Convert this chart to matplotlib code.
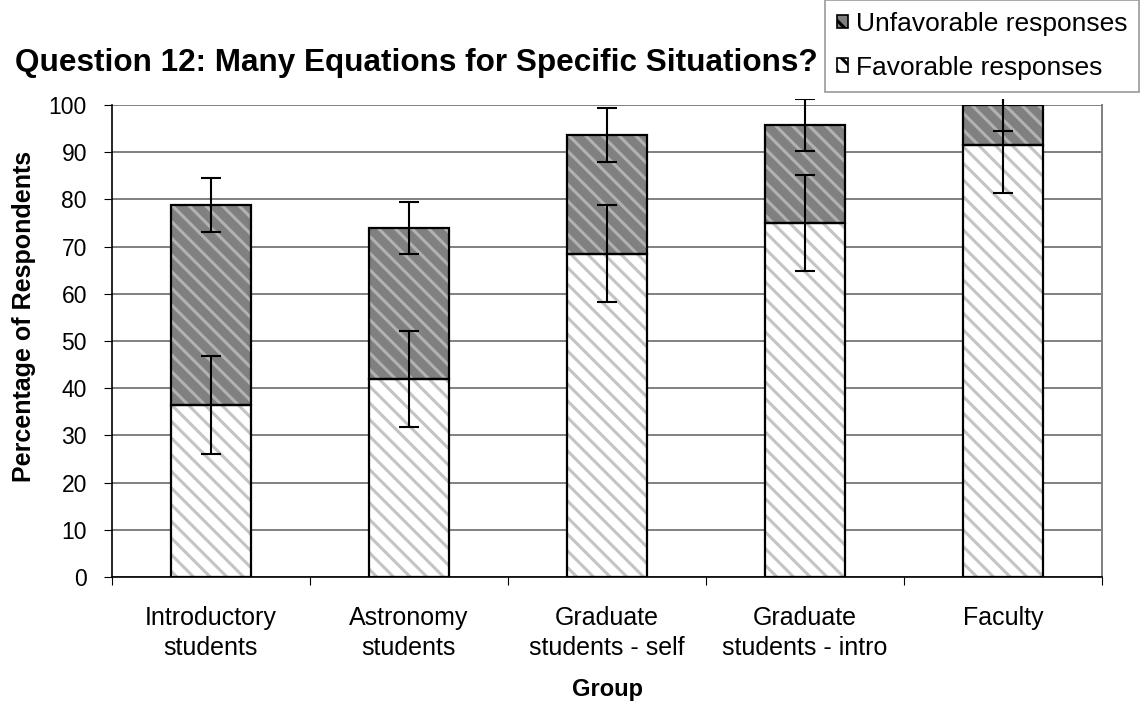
import numpy as np
import matplotlib.pyplot as plt
from matplotlib.patches import Rectangle

plt.rcParams['font.family'] = ['Liberation Sans', 'DejaVu Sans']
plt.rcParams['hatch.linewidth'] = 2.2

groups = ['Introductory\nstudents', 'Astronomy\nstudents', 'Graduate\nstudents - self',
          'Graduate\nstudents - intro', 'Faculty']
favorable = [36.5, 42.0, 68.5, 75.0, 91.5]
unfavorable = [42.3, 32.0, 25.2, 20.8, 8.5]
fav_err = [10.4, 10.2, 10.3, 10.1, 10.1]
unfav_err = [5.7, 5.5, 5.7, 5.5, 5.5]

x = np.arange(len(groups))
total = np.array(favorable) + np.array(unfavorable)
w = 0.405

fig = plt.figure(figsize=(11.4, 7.07), dpi=100)
ax = fig.add_axes([0.0982, 0.1839, 0.8684, 0.6676])

ax.set_xlim(-0.5, len(groups) - 0.5)
ax.set_ylim(0, 100)
ax.set_yticks(np.arange(0, 101, 10))
ax.yaxis.grid(True, color='#808080', linewidth=1.4)
ax.set_axisbelow(True)

# fills with hatch, then black outline on top
fav_bars = ax.bar(x, favorable, w, color='white', edgecolor='#c4c4c4', hatch='\\\\', linewidth=0)
unf_bars = ax.bar(x, unfavorable, w, bottom=favorable, color='#808080', edgecolor='#b2b2b2',
                  hatch='\\\\', linewidth=0)
ax.bar(x, favorable, w, fill=False, edgecolor='black', linewidth=1.6)
ax.bar(x, unfavorable, w, bottom=favorable, fill=False, edgecolor='black', linewidth=1.6)

clip = Rectangle((0, 0), 1, 1.012, transform=ax.transAxes, facecolor='none', edgecolor='none')
ax.add_patch(clip)
for yv, ev in [(favorable, fav_err), (total, unfav_err)]:
    eb = ax.errorbar(x, yv, yerr=ev, fmt='none', ecolor='black', elinewidth=1.5,
                     capsize=7.5, capthick=1.5)
    for art in eb.lines[1] + eb.lines[2]:
        art.set_clip_path(clip)

ax.set_xticks(np.arange(-0.5, len(groups)), minor=False)
ax.set_xticklabels([])
ax.set_xticks(x, minor=True)
ax.set_xticklabels(groups, minor=True, fontsize=18, linespacing=1.3)
ax.tick_params(axis='x', which='minor', length=0, pad=21)
ax.tick_params(axis='x', which='major', length=6, direction='out', color='black')
ax.tick_params(axis='y', labelsize=16.5, length=6, color='black', pad=12)

for s in ['left', 'bottom']:
    ax.spines[s].set_color('black')
    ax.spines[s].set_linewidth(1.2)
ax.spines['right'].set_color('#808080')
ax.spines['right'].set_linewidth(1.4)
ax.spines['top'].set_visible(False)

fig.text(0.021, 0.553, 'Percentage of Respondents', fontsize=18, fontweight='bold',
         rotation=90, ha='center', va='center')
fig.text(0.5325, 0.0156, 'Group', fontsize=17, fontweight='bold', ha='center', va='baseline')
fig.text(0.013, 0.9, 'Question 12: Many Equations for Specific Situations?',
         fontsize=22.7, fontweight='bold', va='baseline')

leg = fig.legend([unf_bars[0], fav_bars[0]], ['Unfavorable responses', 'Favorable responses'],
                 loc='upper right', bbox_to_anchor=(0.9995, 1.0), fontsize=19,
                 frameon=True, fancybox=False, edgecolor='#808080', borderaxespad=0,
                 handlelength=0.42, handleheight=0.42, handletextpad=0.3, labelspacing=0.75,
                 borderpad=0.45)
leg.get_frame().set_linewidth(1.2)
for h in leg.legend_handles:
    h.set_linewidth(1.2)
    h.set_edgecolor('black')

fig.savefig('out.png', dpi=100)
